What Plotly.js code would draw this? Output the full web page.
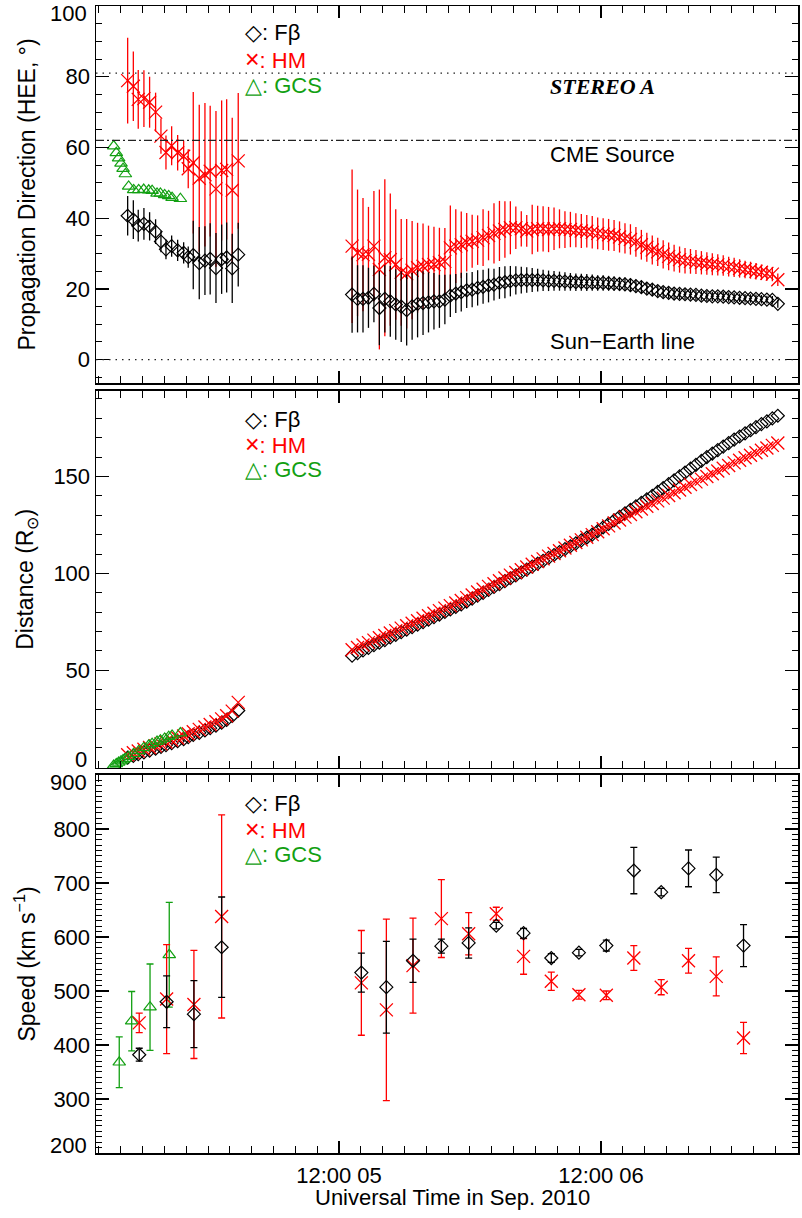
<!DOCTYPE html>
<html><head><meta charset="utf-8">
<script src="https://cdn.plot.ly/plotly-3.0.1.min.js"></script>
<style>html,body{margin:0;padding:0;background:#fff}#chart{width:802px;height:1218px}</style>
</head><body><div id="chart"></div>
<script>
// Time in hours since 2010-09-04 00:00 UT
const tCor = [16.64,17.16,17.61,18.13,18.65,19.20,19.69,20.15,20.67,21.22,21.77,22.19,22.65,23.20,23.72,24.20,24.73,25.25,25.71,26.22,26.77];
const tHi = [37.2,37.7,38.2,38.7,39.2,39.7,40.2,40.7,41.2,41.7,42.2,42.7,43.2,43.7,44.2,44.7,45.2,45.7,46.2,46.7,
  47.2,47.7,48.2,48.7,49.2,49.7,50.2,50.7,51.2,51.7,52.2,52.7,53.2,53.7,54.2,54.7,55.2,55.7,56.2,56.7,
  57.2,57.7,58.2,58.7,59.2,59.7,60.2,60.7,61.2,61.7,62.2,62.7,63.2,63.7,64.2,64.7,65.2,65.7,66.2,66.7,
  67.2,67.7,68.2,68.7,69.2,69.7,70.2,70.7,71.2,71.7,72.2,72.7,73.2,73.7,74.2,74.7,75.2,75.7,76.2];
const tGcs = [15.36,15.60,15.81,16.03,16.22,16.43,16.73,17.19,17.65,18.11,18.57,18.88,19.33,19.64,20.03,20.40,20.71,21.47];

// Propagation direction (deg)
const dirFbCor    = [40.7,39.6,37.9,38.4,37.7,36.2,33.4,31.2,32.1,30.9,30.2,29.0,29.6,27.3,28.0,28.5,25.9,28.4,28.9,25.8,29.7];
const dirFbCorErr = [5.6,5.5,4.5,4.5,4.0,3.5,3.0,2.8,3.0,3.0,3.0,3.0,9.7,10.2,9.7,10.1,9.9,9.8,9.9,9.8,9.0];
const dirHmCor    = [78.9,77.3,73.6,73.8,72.8,70.0,63.2,58.6,60.5,58.5,57.5,54.0,55.7,51.3,52.3,53.3,48.3,53.5,53.8,47.9,56.2];
const dirHmCorErr = [12.1,9.8,8.3,8.0,7.2,5.5,5.0,4.8,5.5,5.0,4.5,5.5,20.0,20.8,20.3,18.5,22.0,19.8,19.8,20.5,19.2];
const dirFbHi = [18.4,17.2,17.2,17.5,18.6,14.6,17.2,16.5,15.6,15.0,
  14.0,15.1,15.8,16.0,16.2,16.5,16.5,17.0,18.1,18.7,
  19.1,19.6,19.8,20.3,20.6,21.0,21.2,21.7,21.9,22.2,
  22.4,22.5,22.5,22.5,22.5,22.4,22.3,22.3,22.2,22.1,
  22.0,21.9,21.9,21.8,21.8,21.7,21.7,21.6,21.5,21.4,
  21.3,21.1,20.8,20.5,20.1,19.8,19.4,19.1,18.9,18.7,
  18.6,18.5,18.4,18.3,18.1,18.0,17.9,17.9,17.8,17.7,
  17.6,17.5,17.4,17.3,17.2,17.1,17.0,16.9,15.8];
const dirFbHiErr = [10.8,9.5,9.5,8.5,8.0,10.5,9.5,10.0,10.0,10.0,
  10.0,9.5,9.5,9.0,8.5,8.0,7.5,7.0,6.0,5.5,
  5.5,5.0,5.0,5.0,4.8,4.8,4.5,4.5,4.5,4.3,
  4.0,3.8,3.6,3.4,3.2,3.0,2.9,2.8,2.7,2.6,
  2.5,2.5,2.4,2.4,2.3,2.2,2.2,2.1,2.0,2.0,
  1.9,1.9,1.8,1.8,1.7,1.7,1.6,1.6,1.6,1.5,
  1.5,1.5,1.4,1.4,1.4,1.4,1.3,1.3,1.3,1.3,
  1.3,1.2,1.2,1.2,1.2,1.2,1.1,1.1,1.1];
const dirHmHi = [32.1,30.2,29.7,29.8,32.1,25.5,28.8,28.3,26.9,24.7,
  24.3,25.3,26.0,26.4,26.9,26.9,27.4,27.8,31.6,32.1,
  32.5,33.2,33.5,33.8,34.5,35.1,35.7,36.4,36.8,37.3,
  37.3,37.0,36.4,36.8,37.0,37.0,36.8,37.0,37.0,36.8,
  36.8,36.6,36.4,36.3,36.0,35.7,35.5,35.3,35.1,34.7,
  34.3,34.0,33.3,32.5,31.8,31.0,30.5,29.8,29.2,28.7,
  28.3,28.0,27.8,27.6,27.4,27.2,27.0,26.8,26.6,26.3,
  26.1,25.8,25.5,25.3,25.0,24.7,24.4,24.2,22.6];
const dirHmHiErr = [21.7,17.9,16.0,13.4,15.6,22.6,22.2,18.7,15.6,15.1,
  15.5,13.9,12.7,12.1,11.0,10.7,9.9,9.4,12.0,10.4,
  9.4,8.3,7.5,7.0,8.0,7.0,8.5,8.5,8.0,7.5,
  6.0,5.0,4.5,7.0,6.5,6.4,6.4,6.0,5.5,5.2,
  5.0,4.8,4.8,4.6,4.6,4.5,4.5,4.5,4.4,4.4,
  4.3,4.3,4.2,4.2,4.1,4.1,4.0,4.0,3.9,3.8,
  3.7,3.6,3.5,3.4,3.3,3.2,3.1,3.0,2.9,2.8,
  2.7,2.6,2.5,2.4,2.3,2.2,2.1,2.0,1.8];
const dirGcs = [60.4,58.5,57.0,55.5,54.0,52.5,49.0,48.0,48.0,48.1,47.9,47.8,47.0,47.0,46.6,46.3,45.8,45.5];

// Distance (solar radii)
const distFbCor = [5.0,5.9,6.8,7.7,8.6,9.6,10.6,11.5,12.5,13.5,14.6,15.6,16.7,17.8,19.0,20.2,21.5,23.0,24.5,26.5,29.3];
const distHmCor = [6.5,7.5,8.4,9.3,10.2,11.1,12.1,13.1,14.1,15.1,16.2,17.3,18.4,19.6,20.8,22.1,23.5,25.0,26.6,29.0,33.5];
const distFbHi = [57.6,58.9,60.3,61.6,63.0,64.3,65.6,67.0,68.3,69.7,
  71.0,72.3,73.6,74.9,76.2,77.5,78.8,80.1,81.4,82.7,
  84.0,85.5,87.0,88.5,90.0,91.5,93.0,94.5,96.0,97.5,
  99.0,100.5,102.0,103.5,105.0,106.5,108.0,109.5,111.0,112.5,
  114.0,115.5,117.0,118.5,120.0,121.8,123.7,125.5,127.3,129.2,
  131.0,132.8,134.6,136.4,138.2,140.0,142.0,144.0,146.0,148.0,
  150.0,152.0,154.0,156.0,158.0,160.0,161.8,163.6,165.4,167.2,
  169.0,170.6,172.2,173.8,175.4,177.0,178.4,179.9,181.3];
const distHmHi = [60.6,61.8,63.1,64.3,65.6,66.8,68.0,69.3,70.5,71.8,
  73.0,74.3,75.6,76.9,78.2,79.5,80.8,82.1,83.4,84.7,
  86.0,87.5,88.9,90.4,91.8,93.3,94.7,96.2,97.6,99.1,
  100.5,101.9,103.3,104.7,106.1,107.5,108.9,110.3,111.7,113.1,
  114.5,115.9,117.3,118.6,120.0,121.5,123.0,124.5,126.0,127.5,
  129.0,130.4,131.8,133.2,134.6,136.0,137.4,138.8,140.2,141.6,
  143.0,144.4,145.8,147.2,148.6,150.0,151.4,152.8,154.2,155.6,
  157.0,158.3,159.6,160.9,162.2,163.5,164.7,166.0,167.2];
const distGcs = [1.0,1.8,2.5,3.2,3.8,4.5,5.5,7.0,8.5,10.0,11.4,12.2,13.3,14.0,14.9,15.8,16.5,17.7];

// Speed (km/s)
const tSpeed = [17.70,20.21,22.71,25.25,38.05,40.34,42.78,45.38,47.88,50.41,52.91,55.45,57.98,60.49,63.01,65.52,68.02,70.56,73.06];
const speedFb    = [382,480,457,581,534,507,556,583,589,621,607,561,571,584,723,683,727,715,584];
const speedFbErr = [12,48,62,93,36,85,40,13,28,6,9,8,6,10,43,7,34,33,39];
const speedHm    = [441,485,475,638,515,465,547,634,606,643,564,518,493,492,561,507,556,527,413];
const speedHmErr = [18,101,100,188,97,168,88,72,39,12,33,17,8,8,23,14,23,36,29];
const tSpeedGcs = [15.87,17.01,18.69,20.45];
const speedGcs    = [368,444,470,567];
const speedGcsErr = [47,55,80,97];

// Reference directions (deg), axis ticks and labels
const refStereoA = 81, refCmeSource = 62, refSunEarth = 0;
const tickTimes = [36, 60];
const tickText = ['12:00 05', '12:00 06'];
const dirTicks = [0, 20, 40, 60, 80];        // 100 sits on the frame edge
const distTicks = [50, 100, 150];            // 0 sits on the frame edge
const speedTicks = [300, 400, 500, 600, 700, 800];  // 200 / 900 sit on the frame edges
const edgeDir = [100], edgeDist = [0], edgeSpeed = [900, 200];

const BLACK = '#000000', RED = '#ff0000', GREEN = '#12a012';
const FONT = 'Liberation Sans, Arial, Helvetica, sans-serif';

function fb(x, y, err, xa, ya, cap) {
  const t = {x, y, xaxis: xa, yaxis: ya, type: 'scatter', mode: 'markers', showlegend: false,
    marker: {symbol: 'diamond-open', size: 10, color: BLACK, line: {width: 1.2, color: BLACK}}};
  if (err) t.error_y = {type: 'data', array: err, visible: true, color: BLACK, thickness: 1.3, width: cap};
  return t;
}
function hm(x, y, err, xa, ya, cap) {
  const t = {x, y, xaxis: xa, yaxis: ya, type: 'scatter', mode: 'markers', showlegend: false,
    marker: {symbol: 'x-thin-open', size: 13, color: RED, line: {width: 1.3, color: RED}}};
  if (err) t.error_y = {type: 'data', array: err, visible: true, color: RED, thickness: 1.3, width: cap};
  return t;
}
function gcs(x, y, err, xa, ya, cap) {
  const t = {x, y, xaxis: xa, yaxis: ya, type: 'scatter', mode: 'markers', showlegend: false,
    marker: {symbol: 'triangle-up-open', size: 11, color: GREEN, line: {width: 1.2, color: GREEN}}};
  if (err) t.error_y = {type: 'data', array: err, visible: true, color: GREEN, thickness: 1.3, width: cap};
  return t;
}

const traces = [
  hm(tCor.concat(tHi), dirHmCor.concat(dirHmHi), dirHmCorErr.concat(dirHmHiErr), 'x', 'y', 0),
  fb(tCor.concat(tHi), dirFbCor.concat(dirFbHi), dirFbCorErr.concat(dirFbHiErr), 'x', 'y', 0),
  gcs(tGcs, dirGcs, null, 'x', 'y', 0),
  fb(tCor.concat(tHi), distFbCor.concat(distFbHi), null, 'x2', 'y2', 0),
  hm(tCor.concat(tHi), distHmCor.concat(distHmHi), null, 'x2', 'y2', 0),
  gcs(tGcs, distGcs, null, 'x2', 'y2', 0),
  gcs(tSpeedGcs, speedGcs, speedGcsErr, 'x3', 'y3', 3.5),
  hm(tSpeed, speedHm, speedHmErr, 'x3', 'y3', 3.5),
  fb(tSpeed, speedFb, speedFbErr, 'x3', 'y3', 3.5)
];

const xCommon = {
  range: [13.74, 78.05], tickmode: 'array', tickvals: tickTimes, ticktext: tickText,
  ticks: 'inside', ticklen: 12, tickwidth: 1.2, tickcolor: BLACK,
  minor: {tickmode: 'linear', tick0: 0, dtick: 2, ticks: 'inside', ticklen: 7, tickwidth: 1, tickcolor: BLACK, showgrid: false},
  showline: true, linecolor: BLACK, linewidth: 1.5, mirror: 'allticks',
  showgrid: false, zeroline: false, fixedrange: true
};
function yCommon(ticks, extra) {
  return Object.assign({
    tickmode: 'array', tickvals: ticks, ticktext: ticks.map(String),
    ticks: 'inside', ticklen: 13, tickwidth: 1.2, tickcolor: BLACK,
    showline: true, linecolor: BLACK, linewidth: 1.5, mirror: 'allticks',
    showgrid: false, zeroline: false, ticklabelstandoff: 0,
    tickfont: {family: FONT, size: 22, color: BLACK}
  }, extra);
}
function minor(d) { return {tickmode: 'linear', tick0: 0, dtick: d, ticks: 'inside', ticklen: 6, tickwidth: 1, tickcolor: BLACK, showgrid: false}; }
// Labels of the frame-edge values, nudged inward as in the original figure
function edgeLabel(val, yref, shift) {
  return {text: String(val), xref: 'paper', yref: yref, x: 0, y: val, xanchor: 'right', yanchor: 'middle',
    xshift: -7, yshift: shift, showarrow: false, font: {family: FONT, size: 22, color: BLACK}};
}

function leg(y1, y2, y3) {
  return [
    {text: '◇: Fβ', y: y1, font: {color: BLACK}},
    {text: '<span style="font-size:25px">×</span>: HM', y: y2, font: {color: RED}},
    {text: '△: GCS', y: y3, font: {color: GREEN}}
  ].map(a => Object.assign({xref: 'paper', yref: 'paper', x: 0.2093, xanchor: 'left', yanchor: 'middle', showarrow: false}, a,
      {font: Object.assign({family: FONT, size: 22}, a.font)}));
}

const annotations = [].concat(
  leg(0.9765, 0.9538, 0.9305),
  leg(0.6399, 0.6181, 0.5963),
  leg(0.3051, 0.2825, 0.2601),
  [
    edgeLabel(edgeDir[0], 'y', -7),
    edgeLabel(edgeDist[0], 'y2', 8),
    edgeLabel(edgeSpeed[0], 'y3', -8),
    edgeLabel(edgeSpeed[1], 'y3', 7),
    {text: 'Universal Time in Sep. 2010', xref: 'paper', yref: 'paper', x: 0.5083, y: -0.039, xanchor: 'center', yanchor: 'middle',
      showarrow: false, font: {family: FONT, size: 22, color: BLACK}},
    {text: '<b><i>STEREO A</i></b>', xref: 'paper', yref: 'paper', x: 0.6437, y: 0.9294, xanchor: 'left', yanchor: 'middle', showarrow: false,
      font: {family: 'Liberation Serif, Times New Roman, serif', size: 22, color: BLACK}},
    {text: 'CME Source', xref: 'paper', yref: 'paper', x: 0.6437, y: 0.8706, xanchor: 'left', yanchor: 'middle', showarrow: false,
      font: {family: FONT, size: 22, color: BLACK}},
    {text: 'Sun\u2212Earth line', xref: 'paper', yref: 'paper', x: 0.6437, y: 0.7073, xanchor: 'left', yanchor: 'middle', showarrow: false,
      font: {family: FONT, size: 22, color: BLACK}}
  ]
);

const shapes = [
  {type: 'line', xref: 'x domain', yref: 'y', x0: 0, x1: 1, y0: refStereoA, y1: refStereoA, line: {color: '#222', width: 1.2, dash: '1.5px,5px'}},
  {type: 'line', xref: 'x domain', yref: 'y', x0: 0, x1: 1, y0: refCmeSource, y1: refCmeSource, line: {color: '#222', width: 1.2, dash: '8px,3px,2px,3px'}},
  {type: 'line', xref: 'x domain', yref: 'y', x0: 0, x1: 1, y0: refSunEarth, y1: refSunEarth, line: {color: '#222', width: 1.2, dash: '1.5px,5px'}}
];

const TITLE_FONT = {family: FONT, size: 23, color: BLACK};
const layout = {
  width: 802, height: 1218,
  margin: {l: 96, r: 4, t: 6, b: 65},
  paper_bgcolor: '#fff', plot_bgcolor: '#fff',
  font: {family: FONT, size: 22, color: BLACK},
  showlegend: false,
  xaxis: Object.assign({}, xCommon, {anchor: 'y', showticklabels: false}),
  xaxis2: Object.assign({}, xCommon, {anchor: 'y2', showticklabels: false, matches: 'x'}),
  xaxis3: Object.assign({}, xCommon, {anchor: 'y3', showticklabels: true, matches: 'x', ticklabelstandoff: 2,
    tickfont: {family: FONT, size: 22, color: BLACK}}),
  yaxis: yCommon(dirTicks, {domain: [0.6713, 1], anchor: 'x', range: [-6.6, 100], minor: minor(5),
    title: {text: 'Propagation Direction (HEE, °)', font: TITLE_FONT, standoff: 23}}),
  yaxis2: yCommon(distTicks, {domain: [0.3357, 0.6646], anchor: 'x2', range: [-0.3, 194.2], minor: minor(10),
    title: {text: 'Distance (R<sub>⊙</sub>)', font: TITLE_FONT, standoff: 13}}),
  yaxis3: yCommon(speedTicks, {domain: [0, 0.3296], anchor: 'x3', range: [200, 900], minor: minor(10),
    title: {text: 'Speed (km s<sup>\u22121</sup>)', font: TITLE_FONT, standoff: 11}}),
  annotations, shapes
};

Plotly.newPlot('chart', traces, layout, {displayModeBar: false, staticPlot: true});
</script>
</body></html>
